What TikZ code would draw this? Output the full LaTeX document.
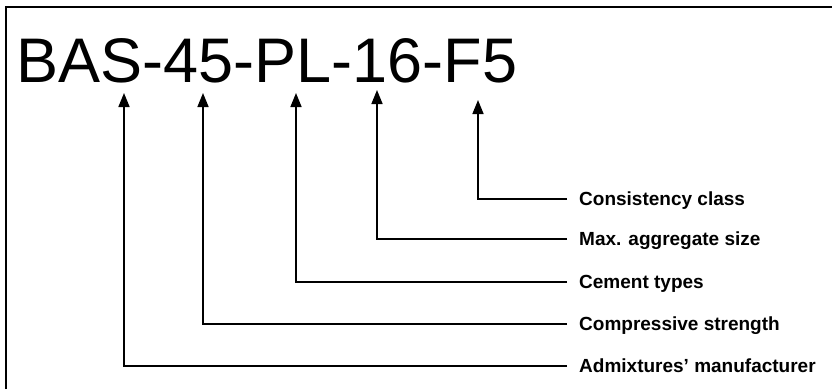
\documentclass[tikz,border=0pt]{standalone}
\usepackage{fontspec}
\setmainfont{Liberation Sans}
\usetikzlibrary{arrows.meta}
\begin{document}
\begin{tikzpicture}[x=1pt,y=-1pt,
  conn/.style={line width=1.6pt,-{Triangle[length=14pt,width=11pt]}},
  lab/.style={anchor=base west,inner sep=0pt,font=\fontsize{19}{22}\selectfont\bfseries},
  code/.style={anchor=base west,inner sep=0pt,font=\fontsize{63}{70}\selectfont}]
\useasboundingbox (0,0) rectangle (832,389);
\fill[white] (0,0) rectangle (832,389);
\draw[line width=2pt] (6,389) -- (6,6.5) -- (832,6.5);
\node[code] (code) at (16.5,82) {BAS-45-PL-16-F5};
% arrow tips
\coordinate (t1) at (124,93);
\coordinate (t2) at (203,93);
\coordinate (t3) at (296,93);
\coordinate (t4) at (377,90);
\coordinate (t5) at (478,100);
% line ends
\coordinate (e1) at (567,366);
\coordinate (e2) at (567,324);
\coordinate (e3) at (567,282);
\coordinate (e4) at (567,239);
\coordinate (e5) at (567,199);
% labels
\node[lab] (l1) at (579,372) {Admixtures’ manufacturer};
\node[lab] (l2) at (579,330) {Compressive strength};
\node[lab] (l3) at (579,288) {Cement types};
\node[lab] (l4) at (579,245) {Max. aggregate size};
\node[lab] (l5) at (579,205) {Consistency class};
% connectors
\draw[conn] (e1) -| (t1);
\draw[conn] (e2) -| (t2);
\draw[conn] (e3) -| (t3);
\draw[conn] (e4) -| (t4);
\draw[conn] (e5) -| (t5);
\end{tikzpicture}
\end{document}
